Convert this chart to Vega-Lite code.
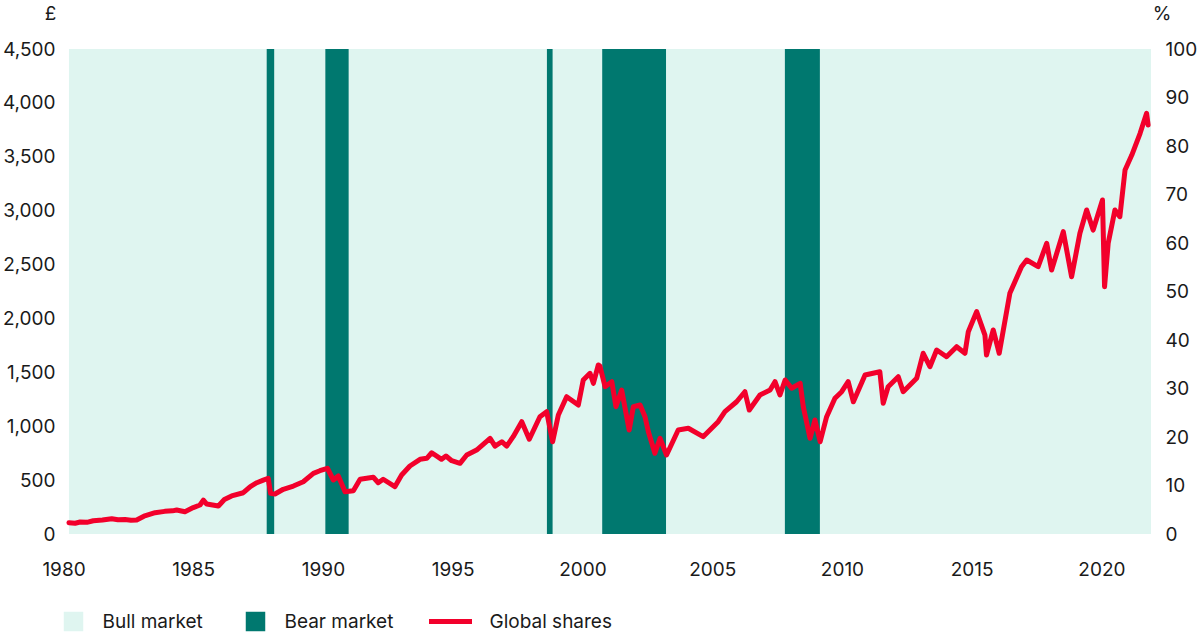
{
  "$schema": "https://vega.github.io/schema/vega-lite/v6.json",
  "width": 1087.5,
  "height": 485,
  "autosize": {"type": "none"},
  "padding": {"left": 63.5, "top": 49, "right": 50, "bottom": 105},
  "config": {
    "view": {"stroke": null},
    "font": "Inter",
    "axis": {
      "grid": false, "domain": false, "ticks": false, "tickSize": 0,
      "labelFont": "Inter", "labelFontSize": 19, "labelColor": "#1a1a1a",
      "titleFont": "Inter", "titleFontSize": 19, "titleFontWeight": "normal", "titleColor": "#1a1a1a",
      "labelFlush": false, "labelOverlap": false
    },
    "legend": {
      "labelFont": "Inter", "labelFontSize": 19, "labelColor": "#1a1a1a", "padding": 0
    }
  },
  "datasets": {
    "periods": [
      {"start": 1980.21, "end": 1987.83, "market": "Bull market"},
      {"start": 1987.83, "end": 1988.12, "market": "Bear market"},
      {"start": 1988.12, "end": 1990.09, "market": "Bull market"},
      {"start": 1990.09, "end": 1990.99, "market": "Bear market"},
      {"start": 1990.99, "end": 1998.63, "market": "Bull market"},
      {"start": 1998.63, "end": 1998.85, "market": "Bear market"},
      {"start": 1998.85, "end": 2000.76, "market": "Bull market"},
      {"start": 2000.76, "end": 2003.22, "market": "Bear market"},
      {"start": 2003.22, "end": 2007.80, "market": "Bull market"},
      {"start": 2007.80, "end": 2009.15, "market": "Bear market"},
      {"start": 2009.15, "end": 2021.91, "market": "Bull market"}
    ],
    "shares": [
      {"year": 1980.21, "value": 105}, {"year": 1980.45, "value": 100}, {"year": 1980.64, "value": 111},
      {"year": 1980.9, "value": 108}, {"year": 1981.15, "value": 123}, {"year": 1981.5, "value": 130},
      {"year": 1981.86, "value": 142}, {"year": 1982.1, "value": 132}, {"year": 1982.37, "value": 135},
      {"year": 1982.6, "value": 128}, {"year": 1982.82, "value": 130}, {"year": 1983.1, "value": 165},
      {"year": 1983.53, "value": 198}, {"year": 1983.9, "value": 210}, {"year": 1984.2, "value": 215},
      {"year": 1984.36, "value": 223}, {"year": 1984.68, "value": 207}, {"year": 1985.0, "value": 245},
      {"year": 1985.26, "value": 269}, {"year": 1985.39, "value": 315}, {"year": 1985.52, "value": 278},
      {"year": 1985.97, "value": 260}, {"year": 1986.2, "value": 320}, {"year": 1986.48, "value": 353},
      {"year": 1986.93, "value": 383}, {"year": 1987.2, "value": 440}, {"year": 1987.45, "value": 476},
      {"year": 1987.7, "value": 500}, {"year": 1987.89, "value": 517}, {"year": 1987.98, "value": 378},
      {"year": 1988.15, "value": 371}, {"year": 1988.47, "value": 415}, {"year": 1988.86, "value": 445},
      {"year": 1989.24, "value": 485}, {"year": 1989.63, "value": 563}, {"year": 1989.88, "value": 587},
      {"year": 1990.17, "value": 610}, {"year": 1990.4, "value": 501}, {"year": 1990.59, "value": 538},
      {"year": 1990.85, "value": 392}, {"year": 1991.17, "value": 402}, {"year": 1991.43, "value": 508},
      {"year": 1991.94, "value": 526}, {"year": 1992.13, "value": 476}, {"year": 1992.32, "value": 508},
      {"year": 1992.77, "value": 439}, {"year": 1993.03, "value": 547}, {"year": 1993.35, "value": 631},
      {"year": 1993.74, "value": 693}, {"year": 1994.0, "value": 702}, {"year": 1994.19, "value": 754},
      {"year": 1994.57, "value": 693}, {"year": 1994.74, "value": 724}, {"year": 1994.96, "value": 680},
      {"year": 1995.28, "value": 656}, {"year": 1995.54, "value": 733}, {"year": 1995.92, "value": 779},
      {"year": 1996.44, "value": 888}, {"year": 1996.63, "value": 816}, {"year": 1996.89, "value": 856},
      {"year": 1997.08, "value": 816}, {"year": 1997.33, "value": 903}, {"year": 1997.66, "value": 1042},
      {"year": 1997.95, "value": 879}, {"year": 1998.36, "value": 1088}, {"year": 1998.62, "value": 1135},
      {"year": 1998.85, "value": 856}, {"year": 1999.07, "value": 1104}, {"year": 1999.39, "value": 1274},
      {"year": 1999.84, "value": 1197}, {"year": 2000.03, "value": 1429}, {"year": 2000.29, "value": 1491},
      {"year": 2000.42, "value": 1398}, {"year": 2000.61, "value": 1568}, {"year": 2000.67, "value": 1560},
      {"year": 2000.87, "value": 1367}, {"year": 2001.13, "value": 1413}, {"year": 2001.29, "value": 1181},
      {"year": 2001.51, "value": 1336}, {"year": 2001.8, "value": 965}, {"year": 2001.96, "value": 1181},
      {"year": 2002.22, "value": 1197}, {"year": 2002.41, "value": 1088}, {"year": 2002.54, "value": 949},
      {"year": 2002.79, "value": 749}, {"year": 2002.99, "value": 888}, {"year": 2003.24, "value": 733},
      {"year": 2003.69, "value": 965}, {"year": 2004.08, "value": 981}, {"year": 2004.65, "value": 903},
      {"year": 2005.23, "value": 1042}, {"year": 2005.49, "value": 1135}, {"year": 2005.94, "value": 1227},
      {"year": 2006.26, "value": 1320}, {"year": 2006.43, "value": 1150}, {"year": 2006.84, "value": 1290},
      {"year": 2007.23, "value": 1336}, {"year": 2007.42, "value": 1413}, {"year": 2007.61, "value": 1290},
      {"year": 2007.81, "value": 1429}, {"year": 2008.06, "value": 1352}, {"year": 2008.39, "value": 1398},
      {"year": 2008.51, "value": 1181}, {"year": 2008.77, "value": 888}, {"year": 2008.96, "value": 1058},
      {"year": 2009.16, "value": 856}, {"year": 2009.41, "value": 1088}, {"year": 2009.73, "value": 1259},
      {"year": 2009.99, "value": 1320}, {"year": 2010.24, "value": 1413}, {"year": 2010.44, "value": 1227},
      {"year": 2010.89, "value": 1475}, {"year": 2011.46, "value": 1506}, {"year": 2011.59, "value": 1213},
      {"year": 2011.78, "value": 1367}, {"year": 2012.17, "value": 1459}, {"year": 2012.36, "value": 1320},
      {"year": 2012.88, "value": 1445}, {"year": 2013.13, "value": 1677}, {"year": 2013.39, "value": 1552},
      {"year": 2013.65, "value": 1707}, {"year": 2014.03, "value": 1645}, {"year": 2014.42, "value": 1738},
      {"year": 2014.74, "value": 1677}, {"year": 2014.87, "value": 1877}, {"year": 2015.19, "value": 2063},
      {"year": 2015.51, "value": 1846}, {"year": 2015.57, "value": 1661}, {"year": 2015.83, "value": 1893},
      {"year": 2016.06, "value": 1677}, {"year": 2016.47, "value": 2233}, {"year": 2016.92, "value": 2480},
      {"year": 2017.12, "value": 2542}, {"year": 2017.56, "value": 2480}, {"year": 2017.89, "value": 2697},
      {"year": 2018.08, "value": 2449}, {"year": 2018.53, "value": 2805}, {"year": 2018.85, "value": 2387},
      {"year": 2019.17, "value": 2790}, {"year": 2019.43, "value": 3006}, {"year": 2019.68, "value": 2820},
      {"year": 2020.04, "value": 3099}, {"year": 2020.12, "value": 2294}, {"year": 2020.26, "value": 2697},
      {"year": 2020.52, "value": 3006}, {"year": 2020.71, "value": 2944}, {"year": 2020.91, "value": 3377},
      {"year": 2021.17, "value": 3516}, {"year": 2021.49, "value": 3718}, {"year": 2021.74, "value": 3903},
      {"year": 2021.8, "value": 3795}
    ]
  },
  "layer": [
    {
      "layer": [
        {
          "data": {"name": "periods"},
          "transform": [{"filter": "datum.market === 'Bull market'"}],
          "mark": {"type": "rect"},
          "encoding": {
            "x": {
              "field": "start", "type": "quantitative",
              "scale": {"domain": [1980, 2021.91], "nice": false, "zero": false},
              "axis": {
                "values": [1980, 1985, 1990, 1995, 2000, 2005, 2010, 2015, 2020],
                "format": "d", "labelPadding": 26, "title": null
              }
            },
            "x2": {"field": "end"},
            "y": {
              "datum": 0, "type": "quantitative",
              "scale": {"domain": [0, 4500], "nice": false, "zero": true},
              "axis": {
                "orient": "left",
                "values": [0, 500, 1000, 1500, 2000, 2500, 3000, 3500, 4000, 4500],
                "format": ",d", "labelPadding": 8.5,
                "title": "£", "titleAngle": 0, "titleX": -13.5, "titleY": -36,
                "titleAlign": "center", "titleBaseline": "middle"
              }
            },
            "y2": {"datum": 4500},
            "fill": {
              "field": "market", "type": "nominal",
              "scale": {"domain": ["Bull market", "Bear market"], "range": ["#dff5f0", "#00786f"]},
              "legend": {
                "orient": "none", "legendX": 0, "legendY": 562.5, "direction": "horizontal",
                "title": null, "symbolType": "square", "symbolSize": 380, "symbolStrokeWidth": 0,
                "labelOffset": 19, "columnPadding": 42
              }
            }
          }
        },
        {
          "mark": {"type": "rule", "color": "#a6d9d1", "strokeWidth": 1.5},
          "encoding": {
            "x": {"datum": 1980.21, "type": "quantitative"},
            "x2": {"datum": 2021.91},
            "y": {"datum": 4500, "type": "quantitative"}
          }
        },
        {
          "data": {"name": "periods"},
          "transform": [{"filter": "datum.market === 'Bear market'"}],
          "mark": {"type": "rect"},
          "encoding": {
            "x": {"field": "start", "type": "quantitative"},
            "x2": {"field": "end"},
            "y": {"datum": 0, "type": "quantitative"},
            "y2": {"datum": 4500},
            "fill": {"field": "market", "type": "nominal"}
          }
        },
        {
          "data": {"name": "shares"},
          "mark": {"type": "line", "strokeWidth": 5, "strokeJoin": "round", "strokeCap": "round"},
          "encoding": {
            "x": {"field": "year", "type": "quantitative"},
            "y": {"field": "value", "type": "quantitative"},
            "stroke": {
              "datum": "Global shares", "type": "nominal",
              "scale": {"domain": ["Global shares"], "range": ["#f2002b"]},
              "legend": {
                "orient": "none", "legendX": 363, "legendY": 548.5,
                "title": null, "symbolType": "stroke", "symbolSize": 1849, "symbolStrokeWidth": 5,
                "labelOffset": 15
              }
            }
          }
        }
      ]
    },
    {
      "data": {"values": [{"p": 0}, {"p": 100}]},
      "mark": {"type": "rule", "opacity": 0},
      "encoding": {
        "y": {
          "field": "p", "type": "quantitative",
          "scale": {"domain": [0, 100], "nice": false},
          "axis": {
            "orient": "right",
            "values": [0, 10, 20, 30, 40, 50, 60, 70, 80, 90, 100],
            "labelPadding": 14,
            "title": "%", "titleAngle": 0, "titleX": 10.7, "titleY": -36,
            "titleAlign": "center", "titleBaseline": "middle"
          }
        }
      }
    }
  ],
  "resolve": {"scale": {"y": "independent"}}
}
